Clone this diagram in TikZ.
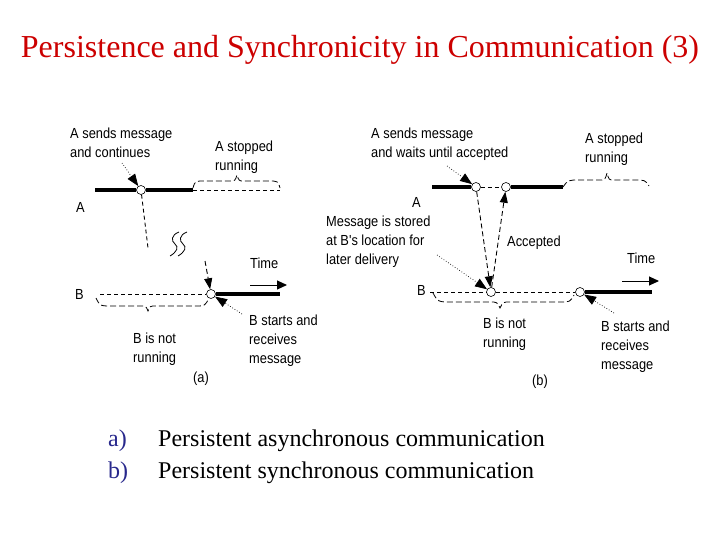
\documentclass[tikz,border=0pt]{standalone}
\usepackage{fontspec}
\setmainfont{Liberation Serif}
\newfontfamily\labfont[FakeStretch=0.88]{Liberation Sans}
\usetikzlibrary{arrows.meta}
\definecolor{titlered}{RGB}{204,0,0}
\definecolor{navy}{RGB}{40,40,140}
\begin{document}
\begin{tikzpicture}[x=1pt,y=-1pt,
  lab/.style={font=\labfont\fontsize{14.6}{19}\selectfont, inner sep=0, anchor=north west, align=left},
  dot/.style={circle, draw, fill=white, minimum size=9pt, inner sep=0, line width=0.6pt},
  thickline/.style={line width=4pt},
  dashline/.style={line width=0.8pt, dash pattern=on 4pt off 3pt},
  msg/.style={line width=0.9pt, dash pattern=on 5pt off 3pt, -{Triangle[length=11pt,width=8pt]}},
  note/.style={line width=0.7pt, dotted, -{Triangle[length=12pt,width=9pt]}},
  timearrow/.style={line width=1pt, -{Triangle[length=10pt,width=9pt]}},
  brace/.style={line width=0.8pt, dash pattern=on 6pt off 3pt}
]
\useasboundingbox (0,0) rectangle (720,540);

% title
\node[font=\fontsize{32}{36}\selectfont, text=titlered, inner sep=0] (title) at (360,50) {Persistence and Synchronicity in Communication (3)};

% ================= (a) =================
\coordinate (aA0) at (95,190);
\node[dot] (c1) at (141,190) {};
\coordinate (aA1) at (193,190);
\coordinate (aA2) at (280,190);
\draw[thickline] (aA0) -- (c1) -- (aA1);
\draw[dashline] (aA1) -- (aA2);
\draw[brace] (193,188) .. controls (195,181) .. (205,181) -- (230,181) .. controls (235,181) .. (237,175) .. controls (239,181) .. (244,181) -- (268,181) .. controls (278,181) .. (280,188);

\node[lab] (aAl) at (76,202) {A};
\node[lab] (aSend) at (70,128) {A sends message\\and continues};
\node[lab] (aStop) at (215,141) {A stopped\\running};
\coordinate (aSendTail) at (122,163);
\draw[note] (aSendTail) -- (c1);

\coordinate (aB0) at (100,294);
\node[dot] (c2) at (211,294) {};
\coordinate (aB1) at (280,294);
\draw[dashline] (aB0) -- (c2);
\draw[thickline] (c2) -- (aB1);
\node[lab] (aBl) at (75,289) {B};
\draw[brace] (96,298) .. controls (100,306) .. (112,306) -- (140,306) .. controls (146,306) .. (148,311) .. controls (150,306) .. (156,306) -- (195,306) .. controls (205,306) .. (209,298);
\node[lab] (aBnot) at (133,333) {B is not\\running};
\node[lab] (aBst) at (249,315) {B starts and\\receives\\message};
\coordinate (aBstTail) at (242,314);
\draw[note] (aBstTail) -- (c2);

% message with interruption
\coordinate (aM1) at (148,248);
\coordinate (aM2) at (205,261);
\draw[dashline, line width=0.9pt] (c1) -- (aM1);
\draw[msg] (aM2) -- (c2);
\draw[line width=0.8pt] (179,232) .. controls (171,235) and (171,241) .. (175,244) .. controls (179,247) and (177,252) .. (170,256);
\draw[line width=0.8pt] (187,232) .. controls (179,235) and (179,241) .. (183,244) .. controls (187,247) and (185,252) .. (178,256);

\node[lab] (aTime) at (250,258) {Time};
\coordinate (aT0) at (250,285);
\coordinate (aT1) at (287,285);
\draw[timearrow] (aT0) -- (aT1);
\node[lab] (alabel) at (193,372) {(a)};

% ================= (b) =================
\coordinate (bA0) at (432,187);
\node[dot] (d1) at (476,187) {};
\node[dot] (d2) at (506,187) {};
\coordinate (bA1) at (563,187);
\draw[thickline] (bA0) -- (d1);
\draw[dashline] (d1) -- (d2);
\draw[thickline] (d2) -- (bA1);
\draw[brace] (563,187) .. controls (568,180) .. (580,180) -- (600,180) .. controls (605,180) .. (607,173) .. controls (609,180) .. (614,180) -- (635,180) .. controls (645,180) .. (649,186);

\node[lab] (bAl) at (412,197) {A};
\node[lab] (bSend) at (371,128) {A sends message\\and waits until accepted};
\coordinate (bSendTail) at (447,166);
\draw[note] (bSendTail) -- (d1);
\node[lab] (bStop) at (585,133) {A stopped\\running};

\coordinate (bB0) at (430,292);
\node[dot] (e1) at (491,292) {};
\node[dot] (e2) at (580,292) {};
\coordinate (bB1) at (652,292);
\draw[dashline] (bB0) -- (e1) -- (e2);
\draw[thickline] (e2) -- (bB1);
\node[lab] (bBl) at (417,285) {B};

\draw[msg] (d1) -- (e1);
\draw[msg] (e1) -- (d2);

\node[lab] (bStore) at (326,216) {Message is stored\\at B's location for\\later delivery};
\coordinate (bStoreTail) at (437,255);
\draw[note] (bStoreTail) -- (e1);
\node[lab] (bAcc) at (507,236) {Accepted};

\draw[brace] (433,293) .. controls (438,302) .. (452,302) -- (490,302) .. controls (497,302) .. (500,308) .. controls (503,302) .. (510,302) -- (560,302) .. controls (570,302) .. (574,295);
\node[lab] (bBnot) at (483,318) {B is not\\running};
\node[lab] (bBst) at (601,321) {B starts and\\receives\\message};
\coordinate (bBstTail) at (614,313);
\draw[note] (bBstTail) -- (e2);

\node[lab] (bTime) at (627,253) {Time};
\coordinate (bT0) at (622,281);
\coordinate (bT1) at (659,281);
\draw[timearrow] (bT0) -- (bT1);
\node[lab] (blabel) at (532,375) {(b)};

% ================= list =================
\node[font=\fontsize{24}{28}\selectfont, text=navy, anchor=base west, inner sep=0] (la) at (108,446) {a)};
\node[font=\fontsize{24}{28}\selectfont, anchor=base west, inner sep=0] (ta) at (158,446) {Persistent asynchronous communication};
\node[font=\fontsize{24}{28}\selectfont, text=navy, anchor=base west, inner sep=0] (lb) at (108,478) {b)};
\node[font=\fontsize{24}{28}\selectfont, anchor=base west, inner sep=0] (tb) at (158,478) {Persistent synchronous communication};
\end{tikzpicture}
\end{document}
